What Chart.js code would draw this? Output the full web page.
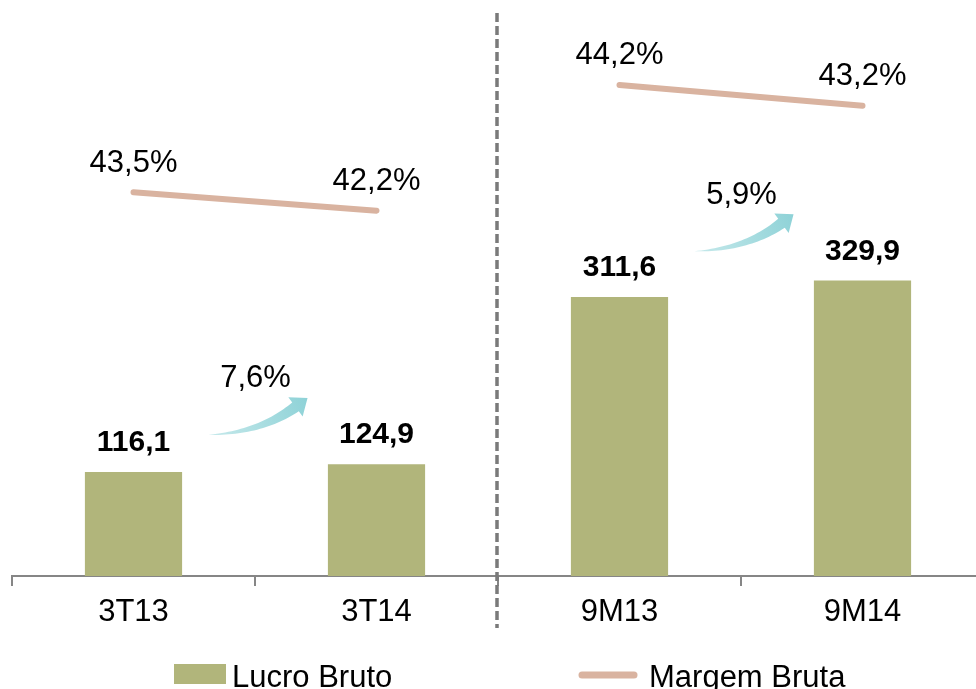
<!DOCTYPE html>
<html>
<head>
<meta charset="utf-8">
<title>Lucro Bruto e Margem Bruta</title>
<script src="https://cdn.jsdelivr.net/npm/chart.js@4.4.1/dist/chart.umd.min.js"></script>
<style>
    html, body { margin: 0; padding: 0; background: #fff; overflow: hidden; }
    #wrap { width: 976px; height: 689px; overflow: hidden; }
    canvas { display: block; }
</style>
</head>
<body>
<div id="wrap"><canvas id="chart" width="984" height="689"></canvas></div>
<script>
// data
const categories = ['3T13', '3T14', '9M13', '9M14'];
const lucroBruto = [116.1, 124.9, 311.6, 329.9];
const margemBruta = [43.5, 42.2, 44.2, 43.2];
const crescimento = [7.6, 5.9]; // 3T14 vs 3T13, 9M14 vs 9M13

const FONT = "'Liberation Sans', Arial, sans-serif";
const BAR_COLOR = '#B1B57B';
const LINE_COLOR = '#D9B3A0';

const fmt = (v, d) => v.toFixed(d).replace('.', ',');

// margin line is split in two pieces, each with its own hidden axis
const margemTrimestre = margemBruta.map((v, i) => i < 2 ? v : null);
const margemAcumulado = margemBruta.map((v, i) => i >= 2 ? v : null);

function drawArrow(ctx, sx, sy) {
    const cx = sx + 52, cy = sy - 2;
    const nx = sx + 87, ny = sy - 28;
    const steps = 30;
    const upper = [], lower = [];
    let dirX = 1, dirY = 0;
    for (let i = 0; i <= steps; i++) {
        const t = i / steps;
        const x = (1 - t) * (1 - t) * sx + 2 * (1 - t) * t * cx + t * t * nx;
        const y = (1 - t) * (1 - t) * sy + 2 * (1 - t) * t * cy + t * t * ny;
        let dx = 2 * (1 - t) * (cx - sx) + 2 * t * (nx - cx);
        let dy = 2 * (1 - t) * (cy - sy) + 2 * t * (ny - cy);
        const len = Math.hypot(dx, dy);
        dx /= len; dy /= len;
        dirX = dx; dirY = dy;
        const w = 5.5 * Math.pow(t, 0.9);
        // normal pointing "down" for a right-going arrow
        const px = -dy, py = dx;
        upper.push([x - px * w, y - py * w]);
        lower.push([x + px * w, y + py * w]);
    }
    const px = -dirY, py = dirX;
    const tipX = nx + dirX * 15, tipY = ny + dirY * 15;

    const grad = ctx.createLinearGradient(sx, sy, tipX, tipY);
    grad.addColorStop(0, '#c6e9eb');
    grad.addColorStop(1, '#8ed2d7');

    ctx.beginPath();
    ctx.moveTo(upper[0][0], upper[0][1]);
    upper.forEach(p => ctx.lineTo(p[0], p[1]));
    ctx.lineTo(nx - px * 12, ny - py * 12);
    ctx.lineTo(tipX, tipY);
    ctx.lineTo(nx + px * 12, ny + py * 12);
    for (let i = lower.length - 1; i >= 0; i--) ctx.lineTo(lower[i][0], lower[i][1]);
    ctx.closePath();
    ctx.fillStyle = grad;
    ctx.fill();
}

const extrasPlugin = {
    id: 'extras',
    afterDatasetsDraw(chart) {
        const ctx = chart.ctx;
        const bars = chart.getDatasetMeta(0).data;
        ctx.save();
        ctx.textAlign = 'center';
        ctx.textBaseline = 'middle';
        ctx.fillStyle = '#000';

        // bar values
        ctx.font = 'bold 30px ' + FONT;
        bars.forEach((bar, i) => {
            ctx.fillText(fmt(lucroBruto[i], 1), bar.x, bar.y - 29);
        });

        // margin values
        ctx.font = '31px ' + FONT;
        [1, 2].forEach(di => {
            const ds = chart.data.datasets[di];
            chart.getDatasetMeta(di).data.forEach((pt, i) => {
                const v = ds.data[i];
                if (v === null) return;
                ctx.fillText(fmt(v, 1) + '%', pt.x, pt.y - 29);
            });
        });

        // growth arrows between each pair of bars
        crescimento.forEach((g, k) => {
            const a = bars[k * 2], b = bars[k * 2 + 1];
            const mid = (a.x + b.x) / 2;
            const sx = mid - 46.5;
            const sy = b.y - 29.3;
            drawArrow(ctx, sx, sy);
            ctx.fillStyle = '#000';
            ctx.fillText(fmt(g, 1) + '%', sx + 47, sy - 56);
        });

        // dashed separator between quarter and nine-month groups
        const xs = chart.scales.x;
        const sepX = (xs.getPixelForValue(1) + xs.getPixelForValue(2)) / 2 - 1;
        ctx.beginPath();
        ctx.setLineDash([9, 4]);
        ctx.lineWidth = 3.5;
        ctx.strokeStyle = '#7a7a7a';
        ctx.moveTo(sepX, 13);
        ctx.lineTo(sepX, 628);
        ctx.stroke();
        ctx.setLineDash([]);

        // legend
        ctx.textAlign = 'left';
        ctx.font = '31px ' + FONT;
        ctx.fillStyle = BAR_COLOR;
        ctx.fillRect(174, 664, 52, 20);
        ctx.fillStyle = '#000';
        ctx.fillText(chart.data.datasets[0].label, 232, 678);

        ctx.beginPath();
        ctx.lineWidth = 7;
        ctx.lineCap = 'round';
        ctx.strokeStyle = LINE_COLOR;
        ctx.moveTo(582, 675);
        ctx.lineTo(634, 675);
        ctx.stroke();
        ctx.fillText(chart.data.datasets[1].label, 649, 678);
        ctx.restore();
    }
};

new Chart(document.getElementById('chart'), {
    type: 'bar',
    data: {
        labels: categories,
        datasets: [
            {
                label: 'Lucro Bruto',
                data: lucroBruto,
                backgroundColor: BAR_COLOR,
                barPercentage: 0.4,
                categoryPercentage: 1,
                yAxisID: 'y',
                order: 2
            },
            {
                type: 'line',
                label: 'Margem Bruta',
                data: margemTrimestre,
                borderColor: LINE_COLOR,
                borderWidth: 6,
                borderCapStyle: 'round',
                pointRadius: 0,
                spanGaps: false,
                yAxisID: 'yM1',
                order: 1
            },
            {
                type: 'line',
                label: 'Margem Bruta',
                data: margemAcumulado,
                borderColor: LINE_COLOR,
                borderWidth: 6,
                borderCapStyle: 'round',
                pointRadius: 0,
                spanGaps: false,
                yAxisID: 'yM2',
                order: 1
            }
        ]
    },
    options: {
        responsive: false,
        animation: false,
        devicePixelRatio: 1,
        layout: {
            padding: { left: 12, right: 0, top: 10, bottom: 58 }
        },
        plugins: {
            legend: { display: false },
            tooltip: { enabled: false }
        },
        scales: {
            x: {
                offset: true,
                grid: {
                    offset: true,
                    drawOnChartArea: false,
                    tickLength: 10,
                    color: '#868686',
                    lineWidth: 2
                },
                border: { color: '#868686', width: 2 },
                ticks: {
                    color: '#000',
                    padding: 8,
                    font: { family: FONT, size: 31 }
                },
                afterFit: (s) => { s.height = 55; }
            },
            y: { display: false, min: 0, max: 632 },
            yM1: { display: false, min: 16.38, max: 56.38 },
            yM2: { display: false, min: 20.48, max: 47.82 }
        }
    },
    plugins: [extrasPlugin]
});
</script>
</body>
</html>
